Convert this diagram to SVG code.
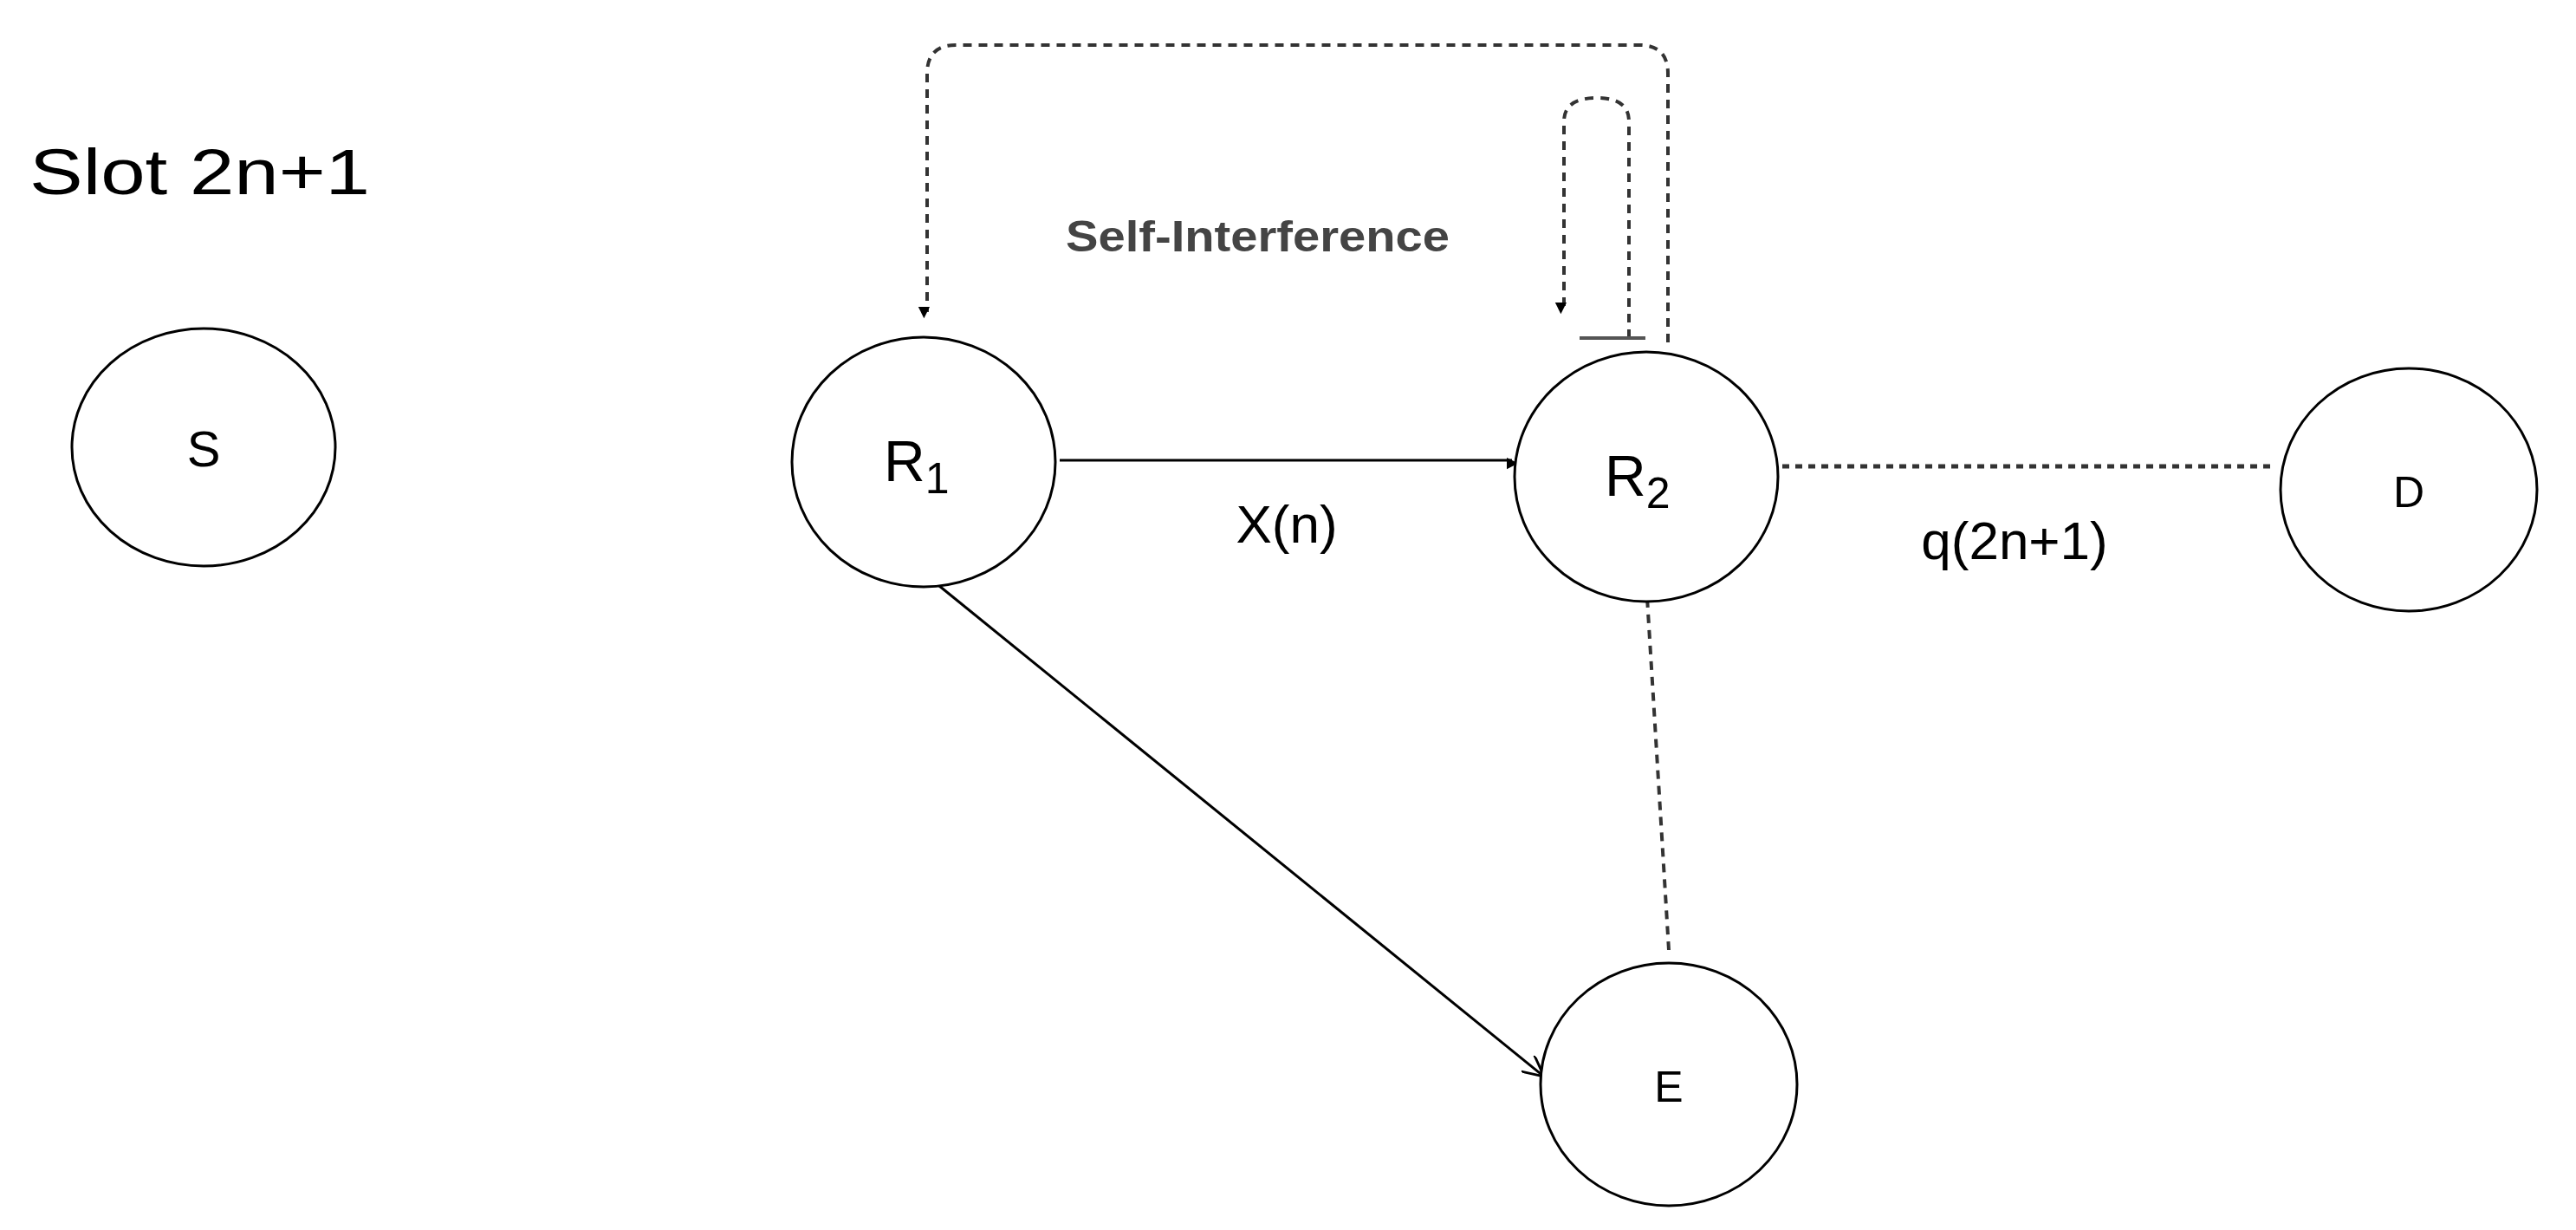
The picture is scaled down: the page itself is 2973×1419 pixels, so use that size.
<svg xmlns="http://www.w3.org/2000/svg" width="2973" height="1419" viewBox="0 0 2973 1419">
<style>
.n{fill:#fff;stroke:#000;stroke-width:3}
.t{font-family:"Liberation Sans",Arial,sans-serif;fill:#000}
.solid{fill:none;stroke:#000;stroke-width:3}
.dash{fill:none;stroke:#333;stroke-width:4;stroke-dasharray:10 8}
.dot{fill:none;stroke:#333;stroke-width:5;stroke-dasharray:8 7}
</style>
<defs>
<marker id="a" viewBox="0 0 10 10" refX="10" refY="5" markerWidth="6" markerHeight="6" markerUnits="userSpaceOnUse" orient="auto" style="overflow:visible"><path d="M0,0 L10,5 L0,10 z" fill="#000" transform="scale(2.2)"/></marker>
<marker id="o" viewBox="0 0 10 10" refX="10" refY="5" markerWidth="30" markerHeight="24" markerUnits="userSpaceOnUse" orient="auto"><path d="M0,0 L10,5 L0,10" fill="none" stroke="#000" stroke-width="1.2"/></marker>
</defs>
<text class="t" x="34" y="224" font-size="74" textLength="393" lengthAdjust="spacingAndGlyphs">Slot 2n+1</text>
<g id="connectors">
<line class="solid" x1="1223" y1="531" x2="1745" y2="531" marker-end="url(#a)"/>
<line class="solid" x1="1073" y1="667" x2="1782" y2="1242" marker-end="url(#o)"/>
<line class="dot" x1="2057" y1="538" x2="2626" y2="538"/>
<line class="dash" x1="1900" y1="673" x2="1926" y2="1096"/>
<path class="dash" d="M1925,395 V85 Q1925,52 1892,52 H1103 Q1070,52 1070,85 V360" marker-end="url(#a)"/>
<path class="dash" d="M1880,390 V140 Q1880,113 1843,113 Q1805,113 1805,140 V355" marker-end="url(#a)"/>
<line x1="1823" y1="390" x2="1899" y2="390" stroke="#555" stroke-width="4"/>
<text class="t" x="1230" y="290" font-size="50" font-weight="bold" fill="#444" style="fill:#444" textLength="443" lengthAdjust="spacingAndGlyphs">Self-Interference</text>
<text class="t" x="1485" y="626" font-size="62" text-anchor="middle">X(n)</text>
<text class="t" x="2325" y="645" font-size="62" text-anchor="middle">q(2n+1)</text>
</g>
<g id="S"><ellipse class="n" cx="235" cy="516" rx="152" ry="137"/><text class="t" x="235" y="538" font-size="58" text-anchor="middle">S</text></g>
<g id="R1"><ellipse class="n" cx="1066" cy="533" rx="152" ry="144"/><text class="t" x="1020" y="555" font-size="66">R<tspan font-size="50" dy="14">1</tspan></text></g>
<g id="R2"><ellipse class="n" cx="1900" cy="550" rx="152" ry="144"/><text class="t" x="1852" y="572" font-size="66">R<tspan font-size="50" dy="14">2</tspan></text></g>
<g id="D"><ellipse class="n" cx="2780" cy="565" rx="148" ry="140"/><text class="t" x="2780" y="585" font-size="50" text-anchor="middle">D</text></g>
<g id="E"><ellipse class="n" cx="1926" cy="1251" rx="148" ry="140"/><text class="t" x="1926" y="1271" font-size="50" text-anchor="middle">E</text></g>
</svg>
